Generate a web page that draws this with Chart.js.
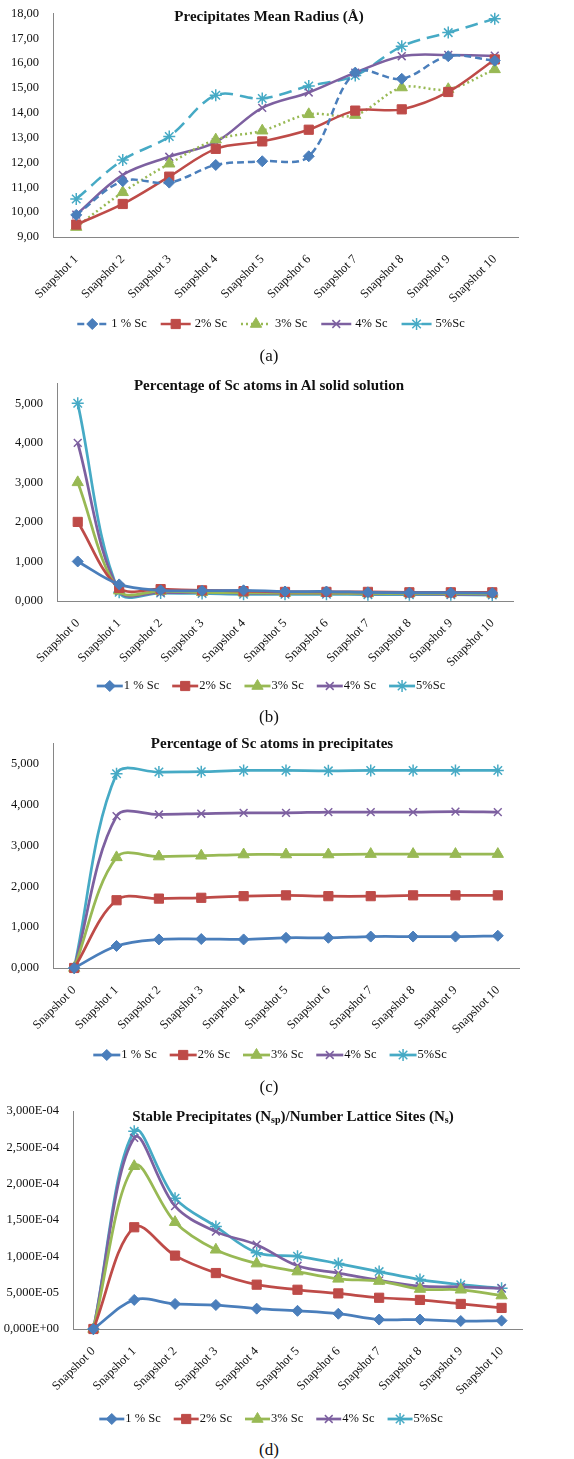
<!DOCTYPE html>
<html>
<head>
<meta charset="utf-8">
<script src="https://cdn.jsdelivr.net/npm/chart.js@4.4.1/dist/chart.umd.min.js"></script>
<style>
body { margin: 0; background: #fff; font-family: "Liberation Serif", "Times New Roman", serif; color: #111; }
#page { position: relative; width: 574px; height: 1459px; }
.panel { position: absolute; left: 0; width: 574px; }
.title { position: absolute; font-weight: bold; font-size: 15px; white-space: nowrap; transform: translate(-50%, -50%); }
.title sub { font-size: 10px; vertical-align: -2px; line-height: 0; }
.cap { position: absolute; font-size: 17px; transform: translate(-50%, -50%); }
</style>
</head>
<body>
<div id="page">
  <div class="panel" style="top:0;height:342px"><canvas id="chartA"></canvas></div>
  <div class="panel" style="top:370px;height:330px"><canvas id="chartB"></canvas></div>
  <div class="panel" style="top:730px;height:340px"><canvas id="chartC"></canvas></div>
  <div class="panel" style="top:1090px;height:345px"><canvas id="chartD"></canvas></div>

  <div class="title" style="left:269px;top:16px">Precipitates Mean Radius (Å)</div>
  <div class="title" style="left:269px;top:385px">Percentage of Sc atoms in Al solid solution</div>
  <div class="title" style="left:272px;top:743px">Percentage of Sc atoms in precipitates</div>
  <div class="title" style="left:293px;top:1116px">Stable Precipitates (N<sub>sp</sub>)/Number Lattice Sites (N<sub>s</sub>)</div>

  <div class="cap" style="left:269px;top:356px">(a)</div>
  <div class="cap" style="left:269px;top:717px">(b)</div>
  <div class="cap" style="left:269px;top:1087px">(c)</div>
  <div class="cap" style="left:269px;top:1450px">(d)</div>
</div>

<script>
// categories
const snapshotsA = ['Snapshot 1', 'Snapshot 2', 'Snapshot 3', 'Snapshot 4', 'Snapshot 5',
    'Snapshot 6', 'Snapshot 7', 'Snapshot 8', 'Snapshot 9', 'Snapshot 10'];
const snapshotsB = ['Snapshot 0', 'Snapshot 1', 'Snapshot 2', 'Snapshot 3', 'Snapshot 4', 'Snapshot 5',
    'Snapshot 6', 'Snapshot 7', 'Snapshot 8', 'Snapshot 9', 'Snapshot 10'];
const seriesNames = ['1 % Sc', '2% Sc', '3% Sc', '4% Sc', '5%Sc'];

// (a) precipitates mean radius
const radius1 = [9.89, 11.25, 11.19, 11.90, 12.05, 12.25, 15.62, 15.37, 16.28, 16.10];
const radius2 = [9.50, 10.33, 11.43, 12.55, 12.85, 13.32, 14.09, 14.14, 14.84, 16.15];
const radius3 = [9.40, 10.80, 11.95, 12.92, 13.28, 13.94, 13.91, 15.02, 14.95, 15.75];
const radius4 = [9.90, 11.50, 12.23, 12.82, 14.20, 14.82, 15.62, 16.28, 16.33, 16.30];
const radius5 = [10.53, 12.10, 13.05, 14.71, 14.58, 15.08, 15.50, 16.68, 17.23, 17.79];

// (b) Sc in Al solid solution
const solid1 = [1.00, 0.42, 0.27, 0.26, 0.27, 0.24, 0.24, 0.22, 0.21, 0.21, 0.20];
const solid2 = [2.00, 0.33, 0.30, 0.27, 0.25, 0.23, 0.23, 0.23, 0.22, 0.22, 0.22];
const solid3 = [3.00, 0.26, 0.25, 0.22, 0.21, 0.20, 0.20, 0.19, 0.19, 0.19, 0.18];
const solid4 = [4.00, 0.25, 0.22, 0.21, 0.20, 0.19, 0.19, 0.18, 0.18, 0.17, 0.17];
const solid5 = [5.00, 0.22, 0.20, 0.19, 0.17, 0.17, 0.17, 0.16, 0.16, 0.16, 0.15];

// (c) Sc in precipitates
const precip1 = [0, 0.54, 0.70, 0.71, 0.70, 0.74, 0.74, 0.77, 0.77, 0.77, 0.79];
const precip2 = [0, 1.66, 1.70, 1.72, 1.76, 1.78, 1.76, 1.76, 1.78, 1.78, 1.78];
const precip3 = [0, 2.71, 2.73, 2.75, 2.78, 2.78, 2.78, 2.79, 2.79, 2.79, 2.79];
const precip4 = [0, 3.72, 3.76, 3.78, 3.80, 3.80, 3.82, 3.82, 3.82, 3.83, 3.82];
const precip5 = [0, 4.76, 4.80, 4.81, 4.84, 4.84, 4.83, 4.84, 4.84, 4.84, 4.84];

// (d) stable precipitates / lattice sites
const stable1 = [0, 4.0e-5, 3.45e-5, 3.3e-5, 2.8e-5, 2.5e-5, 2.1e-5, 1.3e-5, 1.3e-5, 1.1e-5, 1.15e-5];
const stable2 = [0, 1.40e-4, 1.01e-4, 7.7e-5, 6.1e-5, 5.4e-5, 4.9e-5, 4.3e-5, 4.0e-5, 3.45e-5, 2.9e-5];
const stable3 = [0, 2.24e-4, 1.47e-4, 1.09e-4, 9.0e-5, 7.9e-5, 6.9e-5, 6.6e-5, 5.5e-5, 5.4e-5, 4.6e-5];
const stable4 = [0, 2.63e-4, 1.69e-4, 1.34e-4, 1.16e-4, 8.7e-5, 7.7e-5, 6.7e-5, 5.9e-5, 5.8e-5, 5.6e-5];
const stable5 = [0, 2.72e-4, 1.80e-4, 1.41e-4, 1.05e-4, 1.00e-4, 9.0e-5, 7.9e-5, 6.8e-5, 6.1e-5, 5.6e-5];

const colors = ['#4A7EBB', '#BE4B48', '#98B954', '#7D60A0', '#46AAC5'];
const markers = ['rectRot', 'rect', 'triangle', 'crossRot', 'star'];
const markerSize = [5.5, 6.5, 6.5, 5.5, 6];
const FONT = '"Liberation Serif", "Times New Roman", serif';

const commaFixed = (d) => (v) => v.toFixed(d).replace('.', ',');
const commaExp = (v) => {
    if (Math.abs(v) < 1e-12) return '0,000E+00';
    const parts = v.toExponential(3).split('e');
    const n = parseInt(parts[1], 10);
    return parts[0].replace('.', ',') + 'E' + (n < 0 ? '-' : '+') + String(Math.abs(n)).padStart(2, '0');
};

// legend drawn as Excel does: line sample with marker, then text
const sampleLegend = {
    id: 'sampleLegend',
    afterDraw(chart, args, opts) {
        const ctx = chart.ctx;
        ctx.save();
        ctx.font = '12.5px ' + FONT;
        ctx.textBaseline = 'middle';
        const items = chart.data.datasets.map(ds => ({ ds, w: ctx.measureText(ds.label).width }));
        const total = items.reduce((s, it) => s + opts.sample + opts.textGap + it.w, 0) + opts.itemGap * (items.length - 1);
        let x = opts.cx - total / 2;
        const y = opts.y;
        items.forEach(({ ds, w }) => {
            ctx.strokeStyle = ds.borderColor;
            ctx.lineWidth = ds.borderWidth;
            ctx.setLineDash(ds.borderDash || []);
            ctx.beginPath();
            ctx.moveTo(x, y);
            ctx.lineTo(x + opts.sample, y);
            ctx.stroke();
            ctx.setLineDash([]);
            ctx.fillStyle = ds.borderColor;
            ctx.lineWidth = ds.pointBorderWidth;
            Chart.helpers.drawPoint(ctx, {
                pointStyle: ds.pointStyle, radius: ds.pointRadius, rotation: 0, borderWidth: ds.pointBorderWidth
            }, x + opts.sample / 2, y);
            ctx.fillStyle = '#111';
            ctx.fillText(ds.label, x + opts.sample + opts.textGap, y);
            x += opts.sample + opts.textGap + w + opts.itemGap;
        });
        ctx.restore();
    }
};

function makeChart(id, labels, seriesData, cfg) {
    const datasets = seriesData.map((data, i) => ({
        label: seriesNames[i],
        data: data,
        borderColor: colors[i],
        backgroundColor: colors[i],
        borderWidth: cfg.lineWidth,
        borderDash: cfg.dashes ? cfg.dashes[i] : [],
        pointStyle: markers[i],
        pointRadius: markerSize[i],
        pointBorderWidth: (i >= 3) ? 1.5 : 1,
        pointBackgroundColor: colors[i],
        pointBorderColor: colors[i],
        tension: 0.35,
        capBezierPoints: false,
        clip: false,
    }));

    new Chart(document.getElementById(id), {
        type: 'line',
        data: { labels: labels, datasets: datasets },
        options: {
            responsive: true,
            maintainAspectRatio: false,
            animation: false,
            layout: { padding: cfg.padding },
            plugins: {
                legend: { display: false },
                tooltip: { enabled: false },
                sampleLegend: cfg.legend,
            },
            scales: {
                x: {
                    offset: true,
                    grid: { display: false },
                    border: { display: true, color: '#868686' },
                    ticks: { autoSkip: false, maxRotation: 45, minRotation: 45, color: '#111', font: { family: FONT, size: 12.5 }, padding: 7 },
                    afterFit: (s) => { s.height = cfg.xHeight; },
                },
                y: {
                    min: cfg.min,
                    max: cfg.max,
                    grid: { display: false },
                    border: { display: true, color: '#868686' },
                    ticks: { stepSize: cfg.step, callback: cfg.format, color: '#111', font: { family: FONT, size: 12.5 }, padding: 6 },
                    afterBuildTicks: (s) => { s.ticks = s.ticks.filter(t => t.value <= cfg.lastTick + 1e-12); },
                    afterFit: (s) => { s.width = cfg.yWidth; },
                },
            },
        },
        plugins: [sampleLegend],
    });
}

makeChart('chartA', snapshotsA, [radius1, radius2, radius3, radius4, radius5], {
    min: 9, max: 18, step: 1, lastTick: 18, format: commaFixed(2),
    lineWidth: 2.5, dashes: [[7, 4], [], [2, 3], [], [13, 7]],
    padding: { left: 0, right: 56, top: 11, bottom: 30 }, yWidth: 53, xHeight: 75,
    legend: { cx: 271, y: 324, sample: 30, textGap: 4, itemGap: 14 },
});

makeChart('chartB', snapshotsB, [solid1, solid2, solid3, solid4, solid5], {
    min: 0, max: 5.5, step: 1, lastTick: 5, format: commaFixed(3),
    lineWidth: 2.75,
    padding: { left: 0, right: 61, top: 9, bottom: 27 }, yWidth: 57, xHeight: 72,
    legend: { cx: 271, y: 316, sample: 26, textGap: 1, itemGap: 13 },
});

makeChart('chartC', snapshotsB, [precip1, precip2, precip3, precip4, precip5], {
    min: 0, max: 5.5, step: 1, lastTick: 5, format: commaFixed(3),
    lineWidth: 2.75,
    padding: { left: 0, right: 55, top: 12, bottom: 30 }, yWidth: 53, xHeight: 72,
    legend: { cx: 270, y: 325, sample: 27, textGap: 1, itemGap: 13 },
});

makeChart('chartD', snapshotsB, [stable1, stable2, stable3, stable4, stable5], {
    min: 0, max: 3e-4, step: 5e-5, lastTick: 3e-4, format: commaExp,
    lineWidth: 2.75,
    padding: { left: 0, right: 52, top: 21, bottom: 34 }, yWidth: 73, xHeight: 72,
    legend: { cx: 271, y: 329, sample: 25, textGap: 1, itemGap: 13 },
});
</script>
</body>
</html>
